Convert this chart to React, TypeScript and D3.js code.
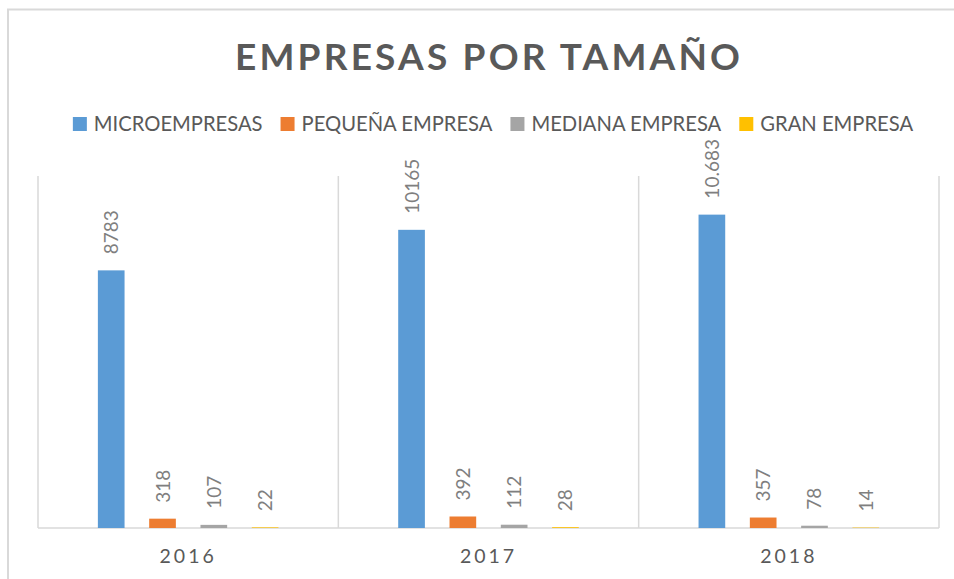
import React, { useEffect, useRef } from "react";
import * as d3 from "d3";

const title = "EMPRESAS POR TAMAÑO";
const years = ["2016", "2017", "2018"];
const seriesNames = ["MICROEMPRESAS", "PEQUEÑA EMPRESA", "MEDIANA EMPRESA", "GRAN EMPRESA"];
const seriesColors = ["#5b9bd5", "#ed7d31", "#a5a5a5", "#ffc000"];
const micro = [8783, 10165, 10683];
const pequena = [318, 392, 357];
const mediana = [107, 112, 78];
const gran = [22, 28, 14];
const microLabels = ["8783", "10165", "10.683"];
const yMax = 12000;

const W = 954;
const H = 579;

export default function App() {
  const ref = useRef<SVGSVGElement>(null);

  useEffect(() => {
    const svg = d3.select(ref.current);
    svg.selectAll("*").remove();

    const font = "Lato, 'Open Sans', sans-serif";
    const textColor = "#595959";
    const labelColor = "#7f7f7f";
    const gridColor = "#d9d9d9";

    // outer chart border
    svg.append("rect")
      .attr("x", 8).attr("y", 9.5)
      .attr("width", W + 20).attr("height", H + 20)
      .attr("fill", "#fff").attr("stroke", gridColor).attr("stroke-width", 2);

    const left = 38, right = 939, top = 176, bottom = 528;

    const x0 = d3.scaleBand<string>().domain(years).range([left, right]).padding(0);
    const x1 = d3.scaleBand<string>().domain(seriesNames)
      .range([0, x0.bandwidth()]).paddingInner(0.48).paddingOuter(1.167);
    const y = d3.scaleLinear().domain([0, yMax]).range([bottom, top]);

    // category separators
    const sepXs = years.map((yr) => x0(yr)!).concat([right]);
    svg.append("g").selectAll("line").data(sepXs).join("line")
      .attr("x1", (d) => d).attr("x2", (d) => d)
      .attr("y1", top).attr("y2", bottom)
      .attr("stroke", gridColor).attr("stroke-width", 1.5);

    // baseline
    svg.append("line")
      .attr("x1", left).attr("x2", right).attr("y1", bottom).attr("y2", bottom)
      .attr("stroke", gridColor).attr("stroke-width", 1.5);

    const seriesValues = [micro, pequena, mediana, gran];
    const labelsFor = [microLabels, pequena.map(String), mediana.map(String), gran.map(String)];

    const data: { yr: string; s: string; v: number; label: string; color: string }[] = [];
    years.forEach((yr, i) => {
      seriesNames.forEach((s, j) => {
        data.push({ yr, s, v: seriesValues[j][i], label: labelsFor[j][i], color: seriesColors[j] });
      });
    });

    const g = svg.append("g");
    g.selectAll("rect").data(data).join("rect")
      .attr("x", (d) => x0(d.yr)! + x1(d.s)!)
      .attr("width", x1.bandwidth())
      .attr("y", (d) => y(d.v))
      .attr("height", (d) => bottom - y(d.v))
      .attr("fill", (d) => d.color);

    g.selectAll("text").data(data).join("text")
      .attr("transform", (d) => {
        const cx = x0(d.yr)! + x1(d.s)! + x1.bandwidth() / 2 + 7;
        const cy = y(d.v) - 16;
        return `translate(${cx},${cy}) rotate(-90)`;
      })
      .attr("text-anchor", "start")
      .attr("font-family", font)
      .attr("font-size", 19)
      .attr("fill", labelColor)
      .text((d) => d.label);

    // axis labels
    svg.append("g").selectAll("text").data(years).join("text")
      .attr("x", (d) => x0(d)! + x0.bandwidth() / 2)
      .attr("y", 562.5)
      .attr("text-anchor", "middle")
      .attr("font-family", font)
      .attr("font-size", 19.5)
      .attr("letter-spacing", 3)
      .attr("fill", textColor)
      .text((d) => d);

    // title
    svg.append("text")
      .attr("x", 487.5).attr("y", 70)
      .attr("text-anchor", "middle")
      .attr("font-family", font)
      .attr("font-weight", "bold")
      .attr("font-size", 37)
      .attr("textLength", 505)
      .attr("lengthAdjust", "spacing")
      .attr("fill", textColor)
      .text(title);

    // legend
    const lg = svg.append("g");
    const fs = 20.2;
    const items = lg.selectAll("g").data(seriesNames).join("g");
    items.append("rect").attr("width", 14).attr("height", 14).attr("y", 117)
      .attr("fill", (d, i) => seriesColors[i]);
    items.append("text").attr("y", 131).attr("font-family", font)
      .attr("font-size", fs).attr("fill", textColor).text((d) => d);
    const widths: number[] = [];
    items.select("text").each(function () {
      widths.push((this as SVGTextElement).getComputedTextLength());
    });
    const sqGap = 7, itemGap = 18;
    const total = d3.sum(widths) + seriesNames.length * (14 + sqGap) + (seriesNames.length - 1) * itemGap;
    let cx = 493 - total / 2;
    items.each(function (d, i) {
      const it = d3.select(this);
      it.select("rect").attr("x", cx);
      it.select("text").attr("x", cx + 14 + sqGap);
      cx += 14 + sqGap + widths[i] + itemGap;
    });
  }, []);

  return (
    <svg ref={ref} width={W} height={H}
      style={{ position: "absolute", left: 0, top: 0, background: "#fff" }} />
  );
}
